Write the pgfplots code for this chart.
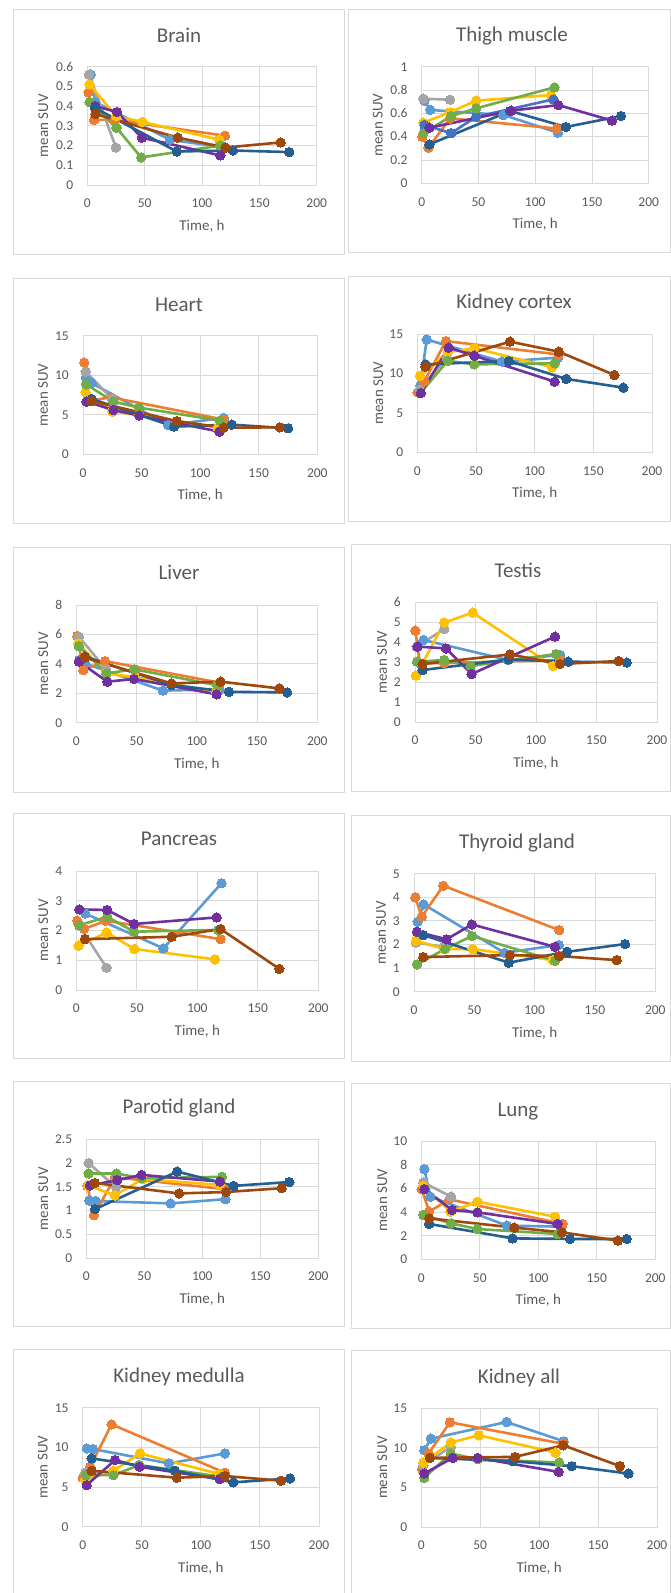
\documentclass[border=0pt]{standalone}
\usepackage{fontspec}
\setmainfont{Carlito}
\usepackage{pgfplots}
\pgfplotsset{compat=1.18}
\definecolor{c1}{HTML}{5B9BD5}
\definecolor{c2}{HTML}{ED7D31}
\definecolor{c3}{HTML}{A5A5A5}
\definecolor{c4}{HTML}{FFC000}
\definecolor{c5}{HTML}{4472C4}
\definecolor{c6}{HTML}{70AD47}
\definecolor{c7}{HTML}{255E91}
\definecolor{c8}{HTML}{7030A0}
\definecolor{c9}{HTML}{9E480E}
\definecolor{txt}{HTML}{595959}
\definecolor{gridc}{HTML}{D9D9D9}
\pgfplotsset{
 base/.style={scale only axis, anchor=south west, xmin=0, xmax=200, ymin=0,
   xtick={0,50,100,150,200}, grid=major,
   major grid style={draw=gridc, line width=0.9pt},
   axis line style={draw=gridc, line width=0.9pt},
   major tick length=0pt, tick style={draw=none}, clip=false,
   ticklabel style={font=\fontsize{13.5}{14}\selectfont, text=txt, inner sep=0pt},
   xticklabel style={anchor=north, yshift=-14pt},
   yticklabel style={anchor=east, xshift=-14pt},
   /pgf/number format/assume math mode=true,
   xlabel={Time, h}, ylabel={mean SUV},
   label style={font=\fontsize{15}{17}\selectfont, text=txt},
   xlabel style={at={(axis description cs:0.5,0)}, anchor=base, yshift=-45.5pt}},
 yl/.style={ylabel style={at={([xshift=-#1]axis description cs:0,0.5)}, anchor=center}},
 s/.style={color=#1, line width=2.6pt, line join=round, mark=*, mark size=4.7pt,
   mark options={fill=#1, draw=#1, line width=0pt}}
}
\begin{document}
\begin{tikzpicture}
\tikzset{ttl/.style={font=\fontsize{21}{24}\selectfont, text=txt, anchor=base}}
% panel frames
\draw[gridc, line width=0.9pt] (13pt,-9pt) rectangle (344pt,-254pt);
\draw[gridc, line width=0.9pt] (348pt,-9pt) rectangle (670pt,-252pt);
\draw[gridc, line width=0.9pt] (13pt,-278pt) rectangle (344pt,-523pt);
\draw[gridc, line width=0.9pt] (348pt,-276pt) rectangle (670pt,-521pt);
\draw[gridc, line width=0.9pt] (13pt,-547pt) rectangle (344pt,-792pt);
\draw[gridc, line width=0.9pt] (351pt,-544pt) rectangle (670pt,-791pt);
\draw[gridc, line width=0.9pt] (13pt,-813pt) rectangle (344pt,-1058pt);
\draw[gridc, line width=0.9pt] (351pt,-815pt) rectangle (670pt,-1061pt);
\draw[gridc, line width=0.9pt] (13pt,-1081pt) rectangle (344pt,-1326pt);
\draw[gridc, line width=0.9pt] (351pt,-1083pt) rectangle (670pt,-1328pt);
\draw[gridc, line width=0.9pt] (13pt,-1349pt) rectangle (344pt,-1610pt);
\draw[gridc, line width=0.9pt] (351pt,-1350pt) rectangle (670pt,-1610pt);
% titles
\node[ttl] at (179pt,-42.7pt) {Brain};
\node[ttl] at (512pt,-41.7pt) {Thigh muscle};
\node[ttl] at (179pt,-311pt) {Heart};
\node[ttl] at (514pt,-308.3pt) {Kidney cortex};
\node[ttl] at (179pt,-579.3pt) {Liver};
\node[ttl] at (518pt,-577.3pt) {Testis};
\node[ttl] at (179pt,-845.7pt) {Pancreas};
\node[ttl] at (517pt,-848.3pt) {Thyroid gland};
\node[ttl] at (179pt,-1113.3pt) {Parotid gland};
\node[ttl] at (518pt,-1116pt) {Lung};
\node[ttl] at (179pt,-1382.7pt) {Kidney medulla};
\node[ttl] at (519pt,-1383.3pt) {Kidney all};

% Brain
\begin{axis}[base, at={(87.3pt,-185pt)}, width=229.4pt, height=118.3pt, ymax=0.6,
  ytick={0,0.1,0.2,0.3,0.4,0.5,0.6}, yl=44pt]
\addplot[s=c1] coordinates {(3,0.56)(7,0.42)(72,0.23)(120,0.19)};
\addplot[s=c2] coordinates {(1,0.47)(6,0.33)(24,0.33)(120,0.25)};
\addplot[s=c3] coordinates {(1.5,0.56)(25,0.19)};
\addplot[s=c4] coordinates {(2,0.51)(25,0.35)(48,0.32)(115,0.23)};
\addplot[s=c6] coordinates {(2,0.42)(25.5,0.29)(47,0.14)(116,0.20)};
\addplot[s=c8] coordinates {(7,0.40)(26,0.37)(47.5,0.24)(116,0.15)};
\addplot[s=c7] coordinates {(7,0.39)(78,0.17)(127,0.175)(176,0.167)};
\addplot[s=c9] coordinates {(7,0.36)(79,0.24)(120.5,0.19)(168.6,0.216)};
\end{axis}

% Thigh muscle
\begin{axis}[base, at={(421.7pt,-183.3pt)}, width=227pt, height=116.6pt, ymax=1,
  ytick={0,0.2,0.4,0.6,0.8,1}, yl=44pt]
\addplot[s=c1] coordinates {(2.4,0.709)(7.6,0.629)(72,0.586)(120,0.434)};
\addplot[s=c2] coordinates {(0.5,0.40)(6,0.306)(25,0.557)(119,0.47)};
\addplot[s=c3] coordinates {(1.5,0.726)(25,0.717)};
\addplot[s=c4] coordinates {(1.5,0.52)(25,0.609)(48,0.709)(114,0.757)};
\addplot[s=c5] coordinates {(2.4,0.50)(26,0.43)(48,0.571)(116,0.72)};
\addplot[s=c6] coordinates {(1.5,0.429)(26,0.577)(48,0.643)(117,0.823)};
\addplot[s=c7] coordinates {(6.8,0.334)(78,0.62)(127,0.483)(175.6,0.577)};
\addplot[s=c8] coordinates {(6.8,0.477)(79,0.623)(120.4,0.671)(167.7,0.537)};
\end{axis}

% Heart
\begin{axis}[base, at={(83pt,-454.3pt)}, width=234.3pt, height=118.6pt, ymax=15,
  ytick={0,5,10,15}, yl=40pt]
\addplot[s=c1] coordinates {(2.5,9.7)(7.4,9.0)(72.8,3.7)(120,4.6)};
\addplot[s=c2] coordinates {(1,11.6)(6,6.8)(24,7.2)(120,4.4)};
\addplot[s=c3] coordinates {(2.3,10.45)(25,7.0)};
\addplot[s=c4] coordinates {(2.3,7.88)(25,5.4)(48,5.0)(115,3.37)};
\addplot[s=c6] coordinates {(2.6,8.85)(26,6.66)(48,5.9)(117,4.26)};
\addplot[s=c8] coordinates {(3,6.66)(26,5.6)(48,4.9)(116.4,2.87)};
\addplot[s=c7] coordinates {(7.4,7.0)(77.7,3.5)(127,3.75)(175,3.29)};
\addplot[s=c9] coordinates {(7.4,6.74)(80,4.2)(120,3.37)(168,3.41)};
\end{axis}

% Kidney cortex
\begin{axis}[base, at={(417.3pt,-452.3pt)}, width=234.7pt, height=118.3pt, ymax=15,
  ytick={0,5,10,15}, yl=39pt]
\addplot[s=c1] coordinates {(2.6,8.5)(8,14.3)(72,11.5)(120,12.0)};
\addplot[s=c2] coordinates {(0.3,7.6)(6,9.0)(24.4,14.1)(120.5,12.4)};
\addplot[s=c3] coordinates {(2,7.9)(25,12.0)};
\addplot[s=c4] coordinates {(2.3,9.7)(26,12.7)(48.6,13.2)(115,10.77)};
\addplot[s=c6] coordinates {(2.8,7.56)(26,11.6)(48.6,11.15)(117,11.28)};
\addplot[s=c8] coordinates {(3,7.5)(26.7,13.27)(48.6,12.25)(117,8.96)};
\addplot[s=c7] coordinates {(7,11.15)(78,11.58)(127,9.3)(175.6,8.2)};
\addplot[s=c9] coordinates {(7,10.86)(79,14.03)(120.5,12.76)(168,9.8)};
\end{axis}

% Liver
\begin{axis}[base, at={(76.3pt,-722.7pt)}, width=241pt, height=117.7pt, ymax=8,
  ytick={0,2,4,6,8}, yl=33pt]
\addplot[s=c1] coordinates {(2.5,4.26)(7.2,4.03)(72,2.18)(119,2.27)};
\addplot[s=c2] coordinates {(0.8,5.89)(5.8,3.58)(23.8,4.19)(119,2.72)};
\addplot[s=c3] coordinates {(2.2,5.85)(24.6,3.63)};
\addplot[s=c4] coordinates {(1.7,5.4)(24.6,3.35)(48.7,3.1)(116,2.1)};
\addplot[s=c6] coordinates {(2.2,5.2)(25,3.35)(48,3.63)(117,2.55)};
\addplot[s=c8] coordinates {(2.2,4.15)(25.7,2.79)(47.9,2.97)(116.4,1.93)};
\addplot[s=c7] coordinates {(7.2,4.49)(79,2.56)(126.7,2.1)(175,2.06)};
\addplot[s=c9] coordinates {(7.2,4.42)(79,2.67)(119.8,2.79)(168.5,2.33)};
\end{axis}

% Testis
\begin{axis}[base, at={(415pt,-722pt)}, width=242pt, height=120pt, ymax=6,
  ytick={0,1,2,3,4,5,6}, yl=33pt]
\addplot[s=c1] coordinates {(2,3.8)(7,4.1)(77,3.1)(120,3.35)};
\addplot[s=c2] coordinates {(0.3,4.57)(4,2.93)(24,2.95)(120,3.1)};
\addplot[s=c3] coordinates {(1.4,3.77)(24.2,4.65)};
\addplot[s=c4] coordinates {(0.8,2.32)(24.2,4.97)(47.7,5.47)(114,2.8)};
\addplot[s=c6] coordinates {(1.7,3.02)(24.2,3.1)(46,2.8)(116.5,3.4)};
\addplot[s=c8] coordinates {(2.2,3.77)(25.6,3.68)(46.8,2.4)(115.7,4.27)};
\addplot[s=c7] coordinates {(6.3,2.6)(77.4,3.13)(126.7,3.02)(175,2.97)};
\addplot[s=c9] coordinates {(6.3,2.9)(78.5,3.38)(119.8,2.9)(168.3,3.05)};
\end{axis}

% Pancreas
\begin{axis}[base, at={(76.3pt,-990pt)}, width=242pt, height=119pt, ymax=4,
  ytick={0,1,2,3,4}, yl=33pt]
\addplot[s=c1] coordinates {(7.4,2.57)(72,1.40)(120,3.59)};
\addplot[s=c2] coordinates {(0.8,2.33)(6.3,2.05)(24.5,2.33)(119.3,1.71)};
\addplot[s=c3] coordinates {(2.5,2.16)(25,0.75)};
\addplot[s=c4] coordinates {(1.9,1.49)(25,1.93)(48,1.38)(114.6,1.03)};
\addplot[s=c6] coordinates {(2.5,2.18)(25.6,2.46)(47.7,1.96)(117.4,2.02)};
\addplot[s=c8] coordinates {(2.5,2.71)(25.6,2.69)(47.7,2.22)(116,2.44)};
\addplot[s=c9] coordinates {(7.2,1.71)(78.8,1.79)(119.3,2.05)(167.8,0.71)};
\end{axis}

% Thyroid gland
\begin{axis}[base, at={(414pt,-991.7pt)}, width=241.3pt, height=118pt, ymax=5,
  ytick={0,1,2,3,4,5}, yl=33pt]
\addplot[s=c1] coordinates {(3,2.97)(8,3.7)(75,1.65)(120,1.98)};
\addplot[s=c2] coordinates {(1.1,4.0)(6.4,3.18)(24.3,4.49)(120.4,2.61)};
\addplot[s=c3] coordinates {(1.7,2.08)(25,1.9)};
\addplot[s=c4] coordinates {(1.7,2.16)(25,1.81)(48.6,1.81)(115,1.34)};
\addplot[s=c6] coordinates {(2.5,1.16)(25.7,1.81)(48,2.36)(117,1.31)};
\addplot[s=c8] coordinates {(2.5,2.54)(27,2.22)(48,2.85)(116.9,1.9)};
\addplot[s=c7] coordinates {(7.7,2.4)(78.5,1.23)(126.8,1.69)(175,2.02)};
\addplot[s=c9] coordinates {(7.7,1.47)(79.6,1.55)(120.4,1.51)(168,1.34)};
\end{axis}

% Parotid gland
\begin{axis}[base, at={(86.3pt,-1258pt)}, width=232pt, height=118.7pt, ymax=2.5,
  ytick={0,0.5,1,1.5,2,2.5}, yl=43pt]
\addplot[s=c1] coordinates {(2.6,1.21)(8,1.2)(72.7,1.15)(120,1.24)};
\addplot[s=c2] coordinates {(0.9,1.52)(6.6,0.9)(24.7,1.7)(119.5,1.45)};
\addplot[s=c3] coordinates {(2,2.0)(25.6,1.49)};
\addplot[s=c4] coordinates {(1.4,1.53)(24.7,1.32)(48.6,1.66)(115,1.54)};
\addplot[s=c6] coordinates {(2,1.78)(26,1.78)(47.7,1.68)(117,1.71)};
\addplot[s=c8] coordinates {(3.2,1.53)(26.7,1.64)(47.7,1.75)(115,1.61)};
\addplot[s=c7] coordinates {(7.5,1.03)(78.4,1.82)(127,1.52)(175,1.6)};
\addplot[s=c9] coordinates {(7.5,1.58)(80,1.36)(120.4,1.39)(168.4,1.47)};
\end{axis}

% Lung
\begin{axis}[base, at={(421.3pt,-1259.3pt)}, width=234pt, height=118.3pt, ymax=10,
  ytick={0,2,4,6,8,10}, yl=39pt]
\addplot[s=c1] coordinates {(2.6,7.63)(7.7,5.3)(73,2.85)(120,2.76)};
\addplot[s=c2] coordinates {(0.3,5.94)(6.8,4.03)(24,5.07)(120.8,2.99)};
\addplot[s=c3] coordinates {(1.7,6.5)(25.4,5.3)};
\addplot[s=c4] coordinates {(1.7,6.2)(24.8,4.03)(48,4.87)(114.5,3.6)};
\addplot[s=c6] coordinates {(1.7,3.75)(25.4,3.04)(48,2.56)(116.5,2.14)};
\addplot[s=c8] coordinates {(2.6,5.94)(26.2,4.17)(48,3.97)(116.5,2.99)};
\addplot[s=c7] coordinates {(6.8,2.99)(78,1.77)(127,1.72)(175.5,1.72)};
\addplot[s=c9] coordinates {(6.8,3.46)(79.5,2.68)(120.2,2.28)(168,1.58)};
\end{axis}

% Kidney medulla
\begin{axis}[base, at={(82.7pt,-1526.7pt)}, width=236.3pt, height=119pt, ymax=15,
  ytick={0,5,10,15}, yl=40pt]
\addplot[s=c1] coordinates {(3.4,9.87)(8.5,9.79)(73,7.98)(120.4,9.24)};
\addplot[s=c2] coordinates {(0,6.18)(6.2,7.56)(24.5,12.9)(120.4,6.8)};
\addplot[s=c3] coordinates {(2,6.8)(26,6.64)};
\addplot[s=c4] coordinates {(2,5.88)(26,7.06)(48.5,9.24)(115.7,6.64)};
\addplot[s=c6] coordinates {(2.8,6.5)(26,6.5)(48,7.77)(117.6,6.3)};
\addplot[s=c8] coordinates {(3.4,5.25)(27.4,8.4)(48,7.56)(116,6.0)};
\addplot[s=c7] coordinates {(7.6,8.61)(78,7.06)(127.5,5.59)(175.5,6.09)};
\addplot[s=c9] coordinates {(7.6,7.06)(79.6,6.18)(120.4,6.39)(167.8,5.8)};
\end{axis}

% Kidney all
\begin{axis}[base, at={(421.3pt,-1527pt)}, width=235.7pt, height=119pt, ymax=15,
  ytick={0,5,10,15}, yl=39pt]
\addplot[s=c1] coordinates {(2.5,9.68)(8.2,11.14)(72.4,13.24)(120.8,10.81)};
\addplot[s=c2] coordinates {(0.6,7.29)(6.2,9.26)(24.3,13.2)(120,10.5)};
\addplot[s=c3] coordinates {(1.7,7.8)(25,10.1)};
\addplot[s=c4] coordinates {(1.7,8.13)(25,10.64)(48.7,11.56)(114,9.38)};
\addplot[s=c6] coordinates {(2.5,6.2)(25,9.26)(47.8,8.55)(117,8.13)};
\addplot[s=c8] coordinates {(2.5,6.74)(26.6,8.71)(47.8,8.71)(116.5,6.95)};
\addplot[s=c7] coordinates {(7.4,8.71)(77.5,8.3)(127.6,7.67)(175.7,6.74)};
\addplot[s=c9] coordinates {(7.4,8.71)(79.5,8.84)(120.5,10.3)(168.6,7.67)};
\end{axis}

\pgfresetboundingbox
\useasboundingbox (0pt,0pt) rectangle (671pt,-1593pt);
\end{tikzpicture}
\end{document}
